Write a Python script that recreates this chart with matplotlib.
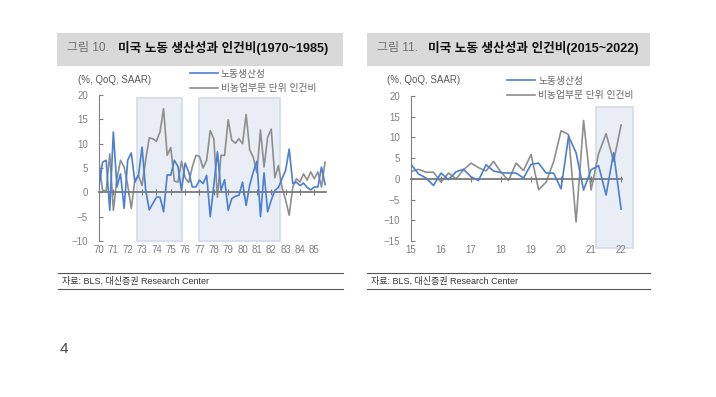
import numpy as np
import matplotlib.pyplot as plt
from matplotlib.lines import Line2D
from matplotlib.patches import Rectangle

plt.rcParams['font.family'] = ['Liberation Sans', 'Noto Sans CJK KR', 'DejaVu Sans']

# 1970Q1 ~ 1985Q4, %, QoQ SAAR
left_prod = [1.1, 6.2, 6.6, -3.7, 12.4, 1.1, 3.8, -3.3, 6.6, 8.1, 2.1, 3.5,
             9.3, 0.5, -3.6, -2.3, -1.0, -1.0, -4.0, 3.6, 3.5, 6.6, 5.3, 0.4,
             6.0, 4.2, 1.1, 1.1, 2.5, 1.8, 3.5, -5.0, 1.5, 8.3, 0.4, 2.6,
             -3.7, -1.3, -0.8, -0.6, 2.1, -2.7, 1.5, 4.2, 6.4, -5.0, 4.0, -4.0,
             -1.6, 0.4, 1.0, 2.8, 4.5, 8.9, 1.8, 2.1, 1.4, 1.9, 1.0, 0.5,
             1.1, 1.1, 5.2, 1.6]
left_ulc = [6.2, 0.4, 0.3, 7.9, -3.7, 2.8, 6.6, 5.2, 1.5, -3.3, 2.5, 3.5,
            1.4, 6.6, 11.2, 11.0, 10.5, 12.4, 17.2, 7.6, 9.2, 2.3, 2.1, 6.4,
            3.0, 2.0, 5.2, 7.6, 7.4, 5.0, 6.6, 12.7, 11.0, -1.0, 7.6, 7.6,
            14.9, 10.7, 10.1, 11.0, 10.0, 16.0, 8.7, 7.2, 4.0, 12.8, 5.2, 11.3,
            13.0, 3.0, 5.5, 1.0, -1.6, -4.7, 1.1, 2.8, 2.1, 3.8, 2.5, 4.2,
            2.8, 4.2, 1.1, 6.2]

# 2015Q1 ~ 2022Q1
right_prod = [3.5, 1.2, 0.2, -1.6, 1.4, -0.2, 1.7, 2.3, 0.5, -0.4, 3.4, 1.9,
              1.5, 1.4, 1.4, 0.2, 3.5, 3.8, 1.4, 1.4, -2.4, 10.3, 6.3, -2.7,
              2.2, 3.2, -3.9, 6.3, -7.3]
right_ulc = [1.8, 2.3, 1.6, 1.6, -0.8, 1.4, 0.0, 2.2, 3.8, 2.7, 1.9, 4.2,
             1.6, -0.4, 3.8, 2.0, 5.9, -2.6, -0.8, 4.1, 11.6, 10.7, -10.4, 14.1,
             -2.7, 6.1, 10.9, 4.2, 13.0]

left_years = ["70", "71", "72", "73", "74", "75", "76", "77",
              "78", "79", "80", "81", "82", "83", "84", "85"]
right_years = ["15", "16", "17", "18", "19", "20", "21", "22"]
series_labels = ["노동생산성", "비농업부문 단위 인건비"]

left_shades = [(1972.65, 1975.75), (1976.97, 1982.6)]
right_shades = [(2021.17, 2022.4)]

BLUE = "#4a7fd2"
GRAY = "#8e8e8e"
AXC = "#808080"
SHADE = "#e9eef6"
SHADE_EDGE = "#d3dcea"

W, H = 716, 397


def fx(px):
    return px / W


def fy(py):
    return 1 - py / H


def draw_panel(ax, start, prod, ulc, years, ylim, yticks, shades, shade_y, leg_anchor):
    x = start + np.arange(len(prod)) / 4
    for x0, x1 in shades:
        ax.add_patch(Rectangle((x0, shade_y[0]), x1 - x0, shade_y[1] - shade_y[0],
                               facecolor=SHADE, edgecolor=SHADE_EDGE, lw=1.2,
                               clip_on=False, zorder=0))
    ax.plot(x, prod, color=BLUE, lw=1.2, label=series_labels[0], zorder=3)
    ax.plot(x, ulc, color=GRAY, lw=1.2, label=series_labels[1], zorder=2)

    ax.set_ylim(*ylim)
    ax.set_yticks(yticks)
    ax.set_xlim(start, start + (len(prod) - 1) / 4 + 0.03)
    ax.patch.set_alpha(0)

    for s in ["top", "right"]:
        ax.spines[s].set_visible(False)
    ax.spines["left"].set_color(AXC)
    ax.spines["bottom"].set_position(("data", 0))
    ax.spines["bottom"].set_color("#7a7a7a")
    ax.spines["bottom"].set_linewidth(1.3)

    ticks = [start + k for k in range(len(years))]
    ax.set_xticks(ticks)
    ax.tick_params(axis="x", direction="inout", length=5, color="#7a7a7a",
                   labelbottom=False)
    ax.tick_params(axis="y", direction="in", length=3, color=AXC,
                   labelsize=7, labelcolor=AXC, pad=8)

    sec = ax.secondary_xaxis("bottom")
    sec.set_xticks(ticks, years)
    sec.spines["bottom"].set_visible(False)
    sec.tick_params(length=0, labelsize=7, labelcolor=AXC, pad=3)

    ax.legend(loc="upper left", bbox_to_anchor=leg_anchor, frameon=False,
              fontsize=7, labelcolor="#666666", handlelength=2.9,
              handletextpad=0.3, labelspacing=0.45, borderpad=0,
              borderaxespad=0)


fig = plt.figure(figsize=(W / 100, H / 100), dpi=100)

# title boxes
for x0, x1, num, title in [(57, 343, "그림 10.", "미국 노동 생산성과 인건비(1970~1985)"),
                           (367, 650, "그림 11.", "미국 노동 생산성과 인건비(2015~2022)")]:
    fig.add_artist(Rectangle((fx(x0), fy(66)), fx(x1 - x0), 33 / H,
                             transform=fig.transFigure, facecolor="#d9d9d9",
                             edgecolor="none"))
    fig.text(fx(x0 + 10), fy(48), num, fontsize=8.6, color="#6f6f6f", va="center")
    fig.text(fx(x0 + 61), fy(48), title, fontsize=9.1, fontweight="bold",
             color="#111111", va="center")

ax1 = fig.add_axes([fx(99), fy(241), fx(226.5), (241 - 95) / H])
draw_panel(ax1, 1970, left_prod, left_ulc, left_years, (-10, 20),
           [-10, -5, 0, 5, 10, 15, 20], left_shades, (-10, 19.4), (0.40, 1.18))

ax2 = fig.add_axes([fx(411), fy(241), fx(211), (241 - 96) / H])
draw_panel(ax2, 2015, right_prod, right_ulc, right_years, (-15, 20),
           [-15, -10, -5, 0, 5, 10, 15, 20], right_shades, (-16.7, 17.3), (0.455, 1.14))

fig.text(fx(78), fy(80), "(%, QoQ, SAAR)", fontsize=7, color="#595959", va="center")
fig.text(fx(387), fy(80), "(%, QoQ, SAAR)", fontsize=7, color="#595959", va="center")

# source lines
for x0, x1 in [(58, 343), (367, 650)]:
    for yy in (273, 289):
        fig.add_artist(Line2D([fx(x0), fx(x1)], [fy(yy), fy(yy)],
                              transform=fig.transFigure, color="#555555", lw=0.8))
    fig.text(fx(x0 + 4), fy(281), "자료: BLS, 대신증권 Research Center",
             fontsize=6.5, color="#333333", va="center")

fig.text(fx(60), fy(349), "4", fontsize=11, color="#444444", va="center")

fig.savefig("out.png", dpi=100)
